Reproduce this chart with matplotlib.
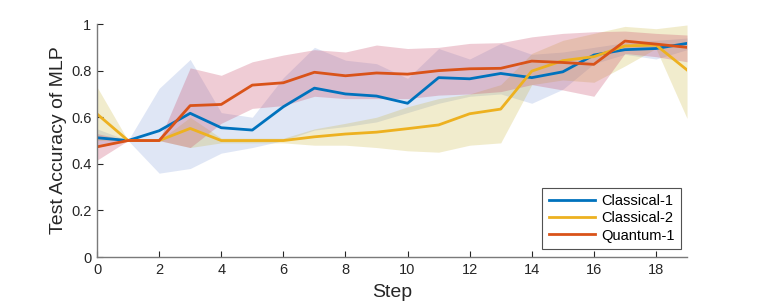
import numpy as np
import matplotlib
matplotlib.use('Agg')
import matplotlib.pyplot as plt

plt.rcParams['font.family'] = ['Liberation Sans', 'DejaVu Sans']

steps = np.arange(20)

# mean curves
c1 = [0.512, 0.50, 0.542, 0.617, 0.555, 0.545, 0.645, 0.725, 0.70, 0.691,
      0.66, 0.77, 0.765, 0.788, 0.77, 0.795, 0.867, 0.89, 0.895, 0.917]
c2 = [0.614, 0.50, 0.50, 0.552, 0.50, 0.50, 0.50, 0.516, 0.528, 0.536,
      0.551, 0.567, 0.615, 0.635, 0.798, 0.843, 0.86, 0.906, 0.91, 0.803]
q1 = [0.473, 0.50, 0.50, 0.65, 0.655, 0.738, 0.748, 0.793, 0.778, 0.79,
      0.785, 0.80, 0.808, 0.81, 0.841, 0.835, 0.827, 0.927, 0.914, 0.90]

# shaded ranges
c1_hi = [0.55, 0.50, 0.724, 0.848, 0.62, 0.60, 0.77, 0.90, 0.845, 0.83,
         0.767, 0.895, 0.85, 0.917, 0.87, 0.88, 0.90, 0.92, 0.93, 0.94]
c1_lo = [0.47, 0.50, 0.36, 0.38, 0.446, 0.47, 0.50, 0.545, 0.56, 0.58,
         0.62, 0.66, 0.69, 0.70, 0.66, 0.72, 0.83, 0.87, 0.85, 0.89]
c2_hi = [0.73, 0.50, 0.50, 0.60, 0.51, 0.51, 0.51, 0.55, 0.574, 0.60,
         0.645, 0.68, 0.70, 0.74, 0.874, 0.93, 0.96, 0.99, 0.98, 0.996]
c2_lo = [0.50, 0.50, 0.50, 0.47, 0.49, 0.49, 0.49, 0.48, 0.48, 0.47,
         0.456, 0.45, 0.48, 0.49, 0.74, 0.76, 0.75, 0.82, 0.895, 0.595]
q1_hi = [0.53, 0.50, 0.50, 0.812, 0.78, 0.838, 0.867, 0.89, 0.88, 0.91,
         0.895, 0.90, 0.917, 0.92, 0.945, 0.96, 0.967, 0.97, 0.96, 0.953]
q1_lo = [0.416, 0.50, 0.50, 0.47, 0.574, 0.638, 0.65, 0.69, 0.68, 0.68,
         0.68, 0.695, 0.70, 0.71, 0.74, 0.717, 0.69, 0.874, 0.86, 0.838]

labels = ['Classical-1', 'Classical-2', 'Quantum-1']
line_colors = ['#0072BD', '#EDB120', '#D95319']
fill_colors = [('#7b97d7', 0.24), ('#c8b030', 0.24), ('#c84a68', 0.28)]

fig = plt.figure(figsize=(7.61, 3.06), dpi=100)
ax = fig.add_axes([0.1275, 0.160, 0.7753, 0.7614])

series = [(c1, c1_lo, c1_hi), (c2, c2_lo, c2_hi), (q1, q1_lo, q1_hi)]
handles = []
for (m, lo, hi), lab, lc, (fc, fa) in zip(series, labels, line_colors, fill_colors):
    ax.fill_between(steps, lo, hi, color=fc, alpha=fa, linewidth=0)
    h, = ax.plot(steps, m, color=lc, lw=2.0, label=lab)
    handles.append(h)

ax.set_xlim(0, 19)
ax.set_ylim(0, 1)
ax.set_xticks(np.arange(0, 19, 2))
ax.set_yticks([0, 0.2, 0.4, 0.6, 0.8, 1])
ax.set_yticklabels(['0', '0.2', '0.4', '0.6', '0.8', '1'])

ax.spines['top'].set_visible(False)
ax.spines['right'].set_visible(False)
for s in ['left', 'bottom']:
    ax.spines[s].set_color('#7a7a7a')
    ax.spines[s].set_linewidth(1.0)
ax.tick_params(direction='in', length=4, width=0.8, color='#262626',
               labelsize=10.5, labelcolor='#262626', pad=4)

ax.set_xlabel('Step', fontsize=14, color='#262626', labelpad=5)
ax.set_ylabel('Test Accuracy of MLP', fontsize=14, color='#262626', labelpad=3)

leg = ax.legend(handles=handles, loc='lower right', bbox_to_anchor=(0.99, 0.034),
                fontsize=10.5, frameon=True, fancybox=False, handlelength=3.2,
                borderpad=0.45, labelspacing=0.22, handletextpad=0.4,
                borderaxespad=0)
leg.get_frame().set_edgecolor('#262626')
leg.get_frame().set_linewidth(0.8)

plt.savefig('out.png', dpi=100)
